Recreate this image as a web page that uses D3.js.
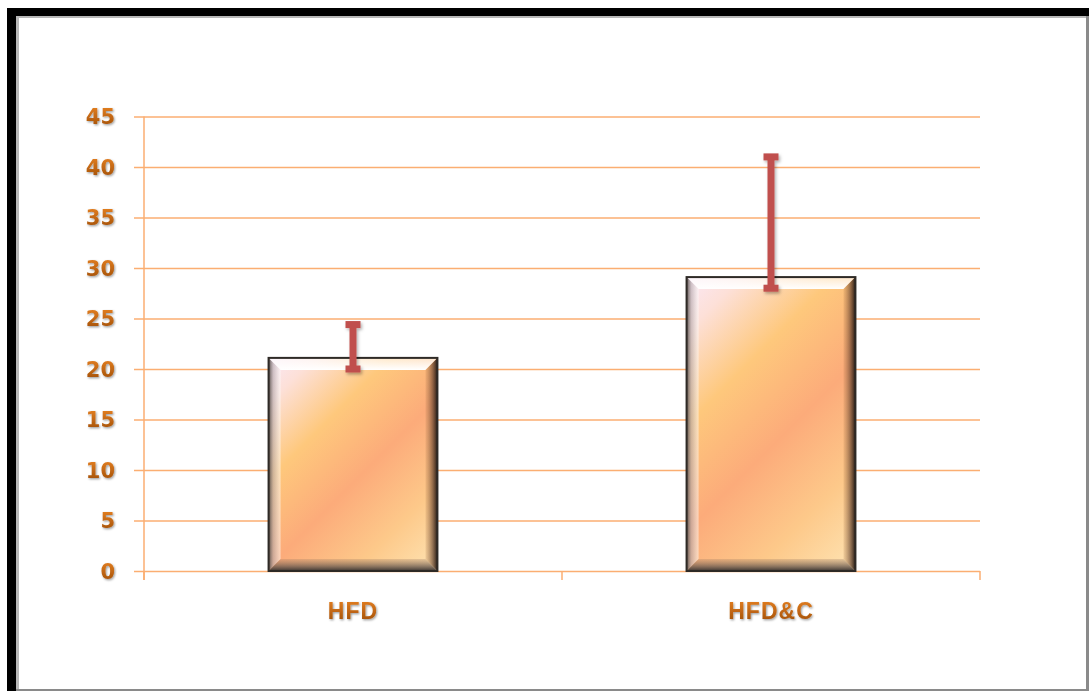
<!DOCTYPE html>
<html>
<head>
<meta charset="utf-8">
<script src="https://cdn.jsdelivr.net/npm/d3@7"></script>
<style>
  html, body { margin: 0; padding: 0; background: #ffffff; }
  svg { display: block; }
</style>
</head>
<body>
<script>
// ---- data ----
const categories = ["HFD", "HFD&C"];
const values = [21.1, 29.1];
const errLow = [20.0, 28.0];
const errHigh = [24.4, 41.0];
const yTicks = [0, 5, 10, 15, 20, 25, 30, 35, 40, 45];

const W = 1089, H = 691;
const svg = d3.select("body").append("svg").attr("width", W).attr("height", H);
const defs = svg.append("defs");

// frame
svg.append("rect").attr("x", 7).attr("y", 8).attr("width", W - 7).attr("height", 8).attr("fill", "#000");
svg.append("rect").attr("x", 7).attr("y", 8).attr("width", 9).attr("height", H - 8).attr("fill", "#000");
svg.append("rect").attr("x", 16).attr("y", 16).attr("width", 3).attr("height", H - 16).attr("fill", "#b8b8b8");
svg.append("rect").attr("x", 16).attr("y", 16).attr("width", W - 16).attr("height", 2).attr("fill", "#b8b8b8");
svg.append("rect").attr("x", 1086).attr("y", 16).attr("width", 3).attr("height", H - 16).attr("fill", "#8a8a8a");
svg.append("rect").attr("x", 16).attr("y", 689).attr("width", W - 16).attr("height", 2).attr("fill", "#8a8a8a");

// scales
const x = d3.scaleBand().domain(categories).range([144, 980]).padding(0);
const y = d3.scaleLinear().domain([0, 45]).range([571, 116.5]);

const gridColor = "#fbae72";

// text gradient + shadow
const tg = defs.append("linearGradient").attr("id", "txtGrad").attr("x1", 0).attr("y1", 0).attr("x2", 0).attr("y2", 1);
tg.append("stop").attr("offset", "0%").attr("stop-color", "#e88222");
tg.append("stop").attr("offset", "100%").attr("stop-color", "#9c4c06");
const tf = defs.append("filter").attr("id", "txtShadow").attr("x", "-20%").attr("y", "-20%").attr("width", "140%").attr("height", "140%");
tf.append("feDropShadow").attr("dx", 1).attr("dy", 1.2).attr("stdDeviation", 0.8).attr("flood-color", "#000").attr("flood-opacity", 0.4);

const ef = defs.append("filter").attr("id", "errShadow").attr("x", "-50%").attr("y", "-10%").attr("width", "200%").attr("height", "120%");
ef.append("feDropShadow").attr("dx", 1.5).attr("dy", 2).attr("stdDeviation", 1.5).attr("flood-color", "#000").attr("flood-opacity", 0.3);

// gridlines (y axis)
const yAxis = d3.axisLeft(y).tickValues(yTicks).tickSize(-(980 - 134)).tickFormat("");
const gy = svg.append("g").attr("transform", "translate(134,0)").call(yAxis);
gy.select(".domain").remove();
gy.selectAll(".tick line").attr("stroke", gridColor).attr("stroke-width", 1.5);

// y axis vertical line
svg.append("line").attr("x1", 144).attr("x2", 144).attr("y1", y(45)).attr("y2", 580)
  .attr("stroke", gridColor).attr("stroke-width", 1.5);

// x axis ticks at band boundaries
const xBounds = [x.range()[0], ...categories.map(c => x(c) + x.bandwidth())];
svg.selectAll(".xtick").data(xBounds).enter().append("line")
  .attr("x1", d => d).attr("x2", d => d).attr("y1", y(0)).attr("y2", 580)
  .attr("stroke", gridColor).attr("stroke-width", 1.5);

// y labels
svg.selectAll(".ylab").data(yTicks).enter().append("text")
  .attr("x", 115).attr("y", d => y(d)).attr("dy", "0.36em")
  .attr("text-anchor", "end")
  .attr("font-family", "DejaVu Sans, Verdana, sans-serif").attr("font-weight", "bold").attr("font-size", 21)
  .attr("fill", "url(#txtGrad)").attr("filter", "url(#txtShadow)")
  .text(d => d);

// x labels
svg.selectAll(".xlab").data(categories).enter().append("text")
  .attr("x", d => x(d) + x.bandwidth() / 2).attr("y", 619)
  .attr("text-anchor", "middle")
  .attr("font-family", "Liberation Sans, Arial, sans-serif").attr("font-weight", "bold").attr("font-size", 23)
  .attr("letter-spacing", 1)
  .attr("fill", "url(#txtGrad)").attr("filter", "url(#txtShadow)")
  .text(d => d);

// bevel gradients
function lg(id, x1, y1, x2, y2, stops) {
  const g = defs.append("linearGradient").attr("id", id).attr("x1", x1).attr("y1", y1).attr("x2", x2).attr("y2", y2);
  stops.forEach(s => g.append("stop").attr("offset", s[0]).attr("stop-color", s[1]).attr("stop-opacity", s[2]));
}
lg("bvTop", 0, 0, 0, 1, [["0%", "#ffffff", 0.6], ["100%", "#ffffff", 1]]);
lg("bvLeft", 0, 0, 1, 0, [["0%", "#4e4640", 0.95], ["40%", "#b0a6aa", 0.6], ["100%", "#ffffff", 0.5]]);
lg("bvRight", 0, 0, 1, 0, [["0%", "#a06a40", 0.15], ["60%", "#5a3a28", 0.65], ["100%", "#241a14", 1]]);
lg("bvBottom", 0, 0, 0, 1, [["0%", "#9a7860", 0.25], ["60%", "#6a5a50", 0.75], ["100%", "#3a3430", 1]]);

const barW = x.bandwidth() * 0.404;
const b = 12;
categories.forEach((c, i) => {
  const cx = x(c) + x.bandwidth() / 2;
  const x0 = cx - barW / 2, x1 = cx + barW / 2;
  const y0 = y(values[i]), y1 = y(0);
  const w = x1 - x0, h = y1 - y0;
  const gid = "face" + i;
  const L = (w + h) / 2;
  const g = defs.append("linearGradient").attr("id", gid).attr("gradientUnits", "userSpaceOnUse")
    .attr("x1", x0).attr("y1", y0).attr("x2", x0 + L).attr("y2", y0 + L);
  [["0%", "#fbe8f6"], ["12%", "#fde0d8"], ["32%", "#fec87c"], ["55%", "#fcab7a"], ["78%", "#fdc98a"], ["100%", "#fee4b4"]]
    .forEach(s => g.append("stop").attr("offset", s[0]).attr("stop-color", s[1]));
  const gb = svg.append("g");
  gb.append("rect").attr("x", x0).attr("y", y0).attr("width", w).attr("height", h).attr("fill", `url(#${gid})`);
  gb.append("polygon").attr("points", [[x0, y0], [x1, y0], [x1 - b, y0 + b], [x0 + b, y0 + b]].join(" ")).attr("fill", "url(#bvTop)");
  gb.append("polygon").attr("points", [[x0, y0], [x0 + b, y0 + b], [x0 + b, y1 - b], [x0, y1]].join(" ")).attr("fill", "url(#bvLeft)");
  gb.append("polygon").attr("points", [[x1, y0], [x1, y1], [x1 - b, y1 - b], [x1 - b, y0 + b]].join(" ")).attr("fill", "url(#bvRight)");
  gb.append("polygon").attr("points", [[x0, y1], [x0 + b, y1 - b], [x1 - b, y1 - b], [x1, y1]].join(" ")).attr("fill", "url(#bvBottom)");
  gb.append("rect").attr("x", x0).attr("y", y0).attr("width", w).attr("height", h)
    .attr("fill", "none").attr("stroke", "#2e2a26").attr("stroke-width", 2);
});

// error bars
const eg = svg.append("g").attr("filter", "url(#errShadow)");
categories.forEach((c, i) => {
  const cx = x(c) + x.bandwidth() / 2;
  eg.append("line").attr("x1", cx).attr("x2", cx).attr("y1", y(errLow[i])).attr("y2", y(errHigh[i]))
    .attr("stroke", "#c0504d").attr("stroke-width", 7);
  [errLow[i], errHigh[i]].forEach(v => {
    eg.append("rect").attr("x", cx - 7.5).attr("y", y(v) - 3.5).attr("width", 15).attr("height", 7).attr("fill", "#c0504d");
  });
});
</script>
</body>
</html>
